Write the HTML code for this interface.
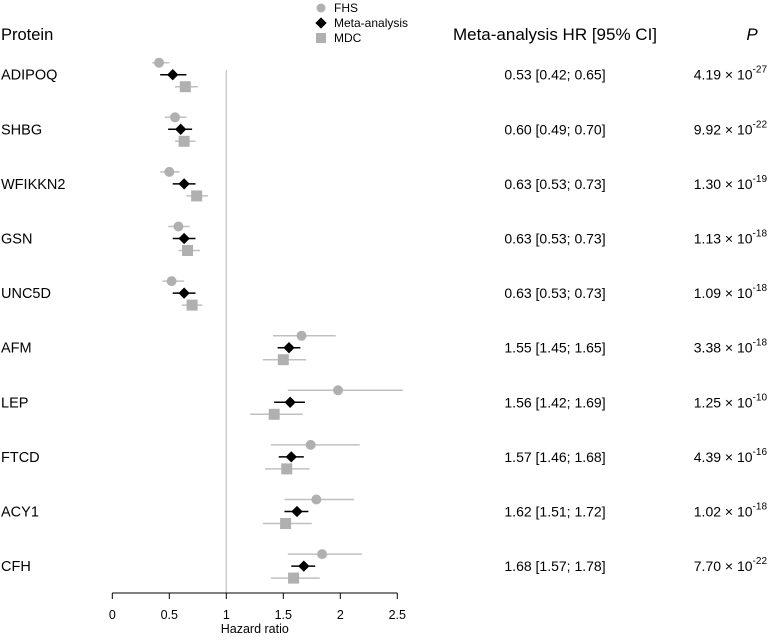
<!DOCTYPE html>
<html><head><meta charset="utf-8"><style>
body{margin:0;background:#fff;font-family:"Liberation Sans",Arial,sans-serif}
svg text{font-family:"Liberation Sans",Arial,sans-serif}
</style></head><body>
<svg id="c" width="773" height="636" xmlns="http://www.w3.org/2000/svg"></svg>
<script>
const proteins=["ADIPOQ","SHBG","WFIKKN2","GSN","UNC5D","AFM","LEP","FTCD","ACY1","CFH"];
const fhsHR=[0.41,0.55,0.50,0.58,0.52,1.66,1.98,1.74,1.79,1.84];
const fhsLo=[0.35,0.46,0.42,0.49,0.44,1.41,1.54,1.39,1.51,1.54];
const fhsHi=[0.50,0.65,0.59,0.68,0.63,1.96,2.55,2.17,2.12,2.19];
const metaHR=[0.53,0.60,0.63,0.63,0.63,1.55,1.56,1.57,1.62,1.68];
const metaLo=[0.42,0.49,0.53,0.53,0.53,1.45,1.42,1.46,1.51,1.57];
const metaHi=[0.65,0.70,0.73,0.73,0.73,1.65,1.69,1.68,1.72,1.78];
const mdcHR=[0.64,0.63,0.74,0.66,0.70,1.50,1.42,1.53,1.52,1.59];
const mdcLo=[0.55,0.55,0.65,0.58,0.61,1.32,1.21,1.34,1.32,1.39];
const mdcHi=[0.75,0.73,0.84,0.77,0.79,1.70,1.67,1.73,1.75,1.82];
const pMant=["4.19","9.92","1.30","1.13","1.09","3.38","1.25","4.39","1.02","7.70"];
const pExp=["-27","-22","-19","-18","-18","-18","-10","-16","-18","-22"];
const ticks=[0,0.5,1,1.5,2,2.5];

const NS="http://www.w3.org/2000/svg";
const svg=document.getElementById('c');
const X=v=>112.3+v*114;
const Y=i=>74.7+i*54.6;
function el(t,a,p){const e=document.createElementNS(NS,t);for(const k in a)e.setAttribute(k,a[k]);(p||svg).appendChild(e);return e;}
function txt(x,y,s,opts){const e=el('text',Object.assign({x:x,y:y,'font-size':14,fill:'#000'},opts||{}));e.textContent=s;return e;}

let h=txt(1,40,"Protein",{'font-size':16.5});


h=txt(555,40,"Meta-analysis HR [95% CI]",{'font-size':17,'text-anchor':'middle'});


h=txt(752,40,"P",{'font-size':17,'font-style':'italic','text-anchor':'middle'});



const lg=el('g',{});


el('circle',{cx:321,cy:8,r:4.5,fill:'#b0b0b0'},lg);
el('rect',{x:317,y:19,width:8,height:8,fill:'#000',transform:'rotate(45 321 23)'},lg);
el('rect',{x:316,y:33,width:10,height:10,fill:'#b0b0b0'},lg);
txt(334,12,"FHS",{'font-size':12});lg.appendChild(svg.lastChild);
txt(334,27,"Meta-analysis",{'font-size':12});lg.appendChild(svg.lastChild);
txt(334,42,"MDC",{'font-size':12});lg.appendChild(svg.lastChild);

const rl=el('line',{x1:X(1),x2:X(1),y1:70,y2:593,stroke:'#c8c8c8','stroke-width':1.3});



const ax=el('g',{});


el('line',{x1:X(0),x2:X(2.5),y1:593,y2:593,stroke:'#000','stroke-width':1},ax);
ticks.forEach(t=>{
  el('line',{x1:X(t),x2:X(t),y1:593,y2:599,stroke:'#000'},ax);
  const tl=txt(X(t),619,String(t),{'font-size':12.5,'text-anchor':'middle'});
  ax.appendChild(tl);
  
  
});
const at=txt(X(1.25),633,"Hazard ratio",{'font-size':12.5,'text-anchor':'middle'});



proteins.forEach((p,i)=>{
  const y=Y(i);
  const g=el('g',{});
  
  
  const lab=txt(1,y+5,p,{'font-size':14.5});g.appendChild(lab);
  el('line',{x1:X(fhsLo[i]),x2:X(fhsHi[i]),y1:y-12,y2:y-12,stroke:'#c0c0c0','stroke-width':1.5},g);
  const c=el('circle',{cx:X(fhsHR[i]),cy:y-12,r:5,fill:'#b0b0b0'},g);
  
  
  el('line',{x1:X(metaLo[i]),x2:X(metaHi[i]),y1:y,y2:y,stroke:'#000','stroke-width':1.5},g);
  const d=el('rect',{x:X(metaHR[i])-4,y:y-4,width:8,height:8,fill:'#000',transform:`rotate(45 ${X(metaHR[i])} ${y})`},g);
  
  
  el('line',{x1:X(mdcLo[i]),x2:X(mdcHi[i]),y1:y+12,y2:y+12,stroke:'#c0c0c0','stroke-width':1.5},g);
  const s=el('rect',{x:X(mdcHR[i])-5.5,y:y+6.5,width:11,height:11,fill:'#b0b0b0'},g);
  
  
  const hr=txt(555,y+5,`${metaHR[i].toFixed(2)} [${metaLo[i].toFixed(2)}; ${metaHi[i].toFixed(2)}]`,{'font-size':14,'text-anchor':'middle'});
  g.appendChild(hr);
  const pt=el('text',{x:767,y:y+5,'font-size':14,'text-anchor':'end'},g);
  
  
  const t1=el('tspan',{},pt);t1.textContent=pMant[i]+" \u00d7 10";
  const t2=el('tspan',{dy:-7,'font-size':10},pt);t2.textContent=pExp[i];
});
</script>
</body></html>
